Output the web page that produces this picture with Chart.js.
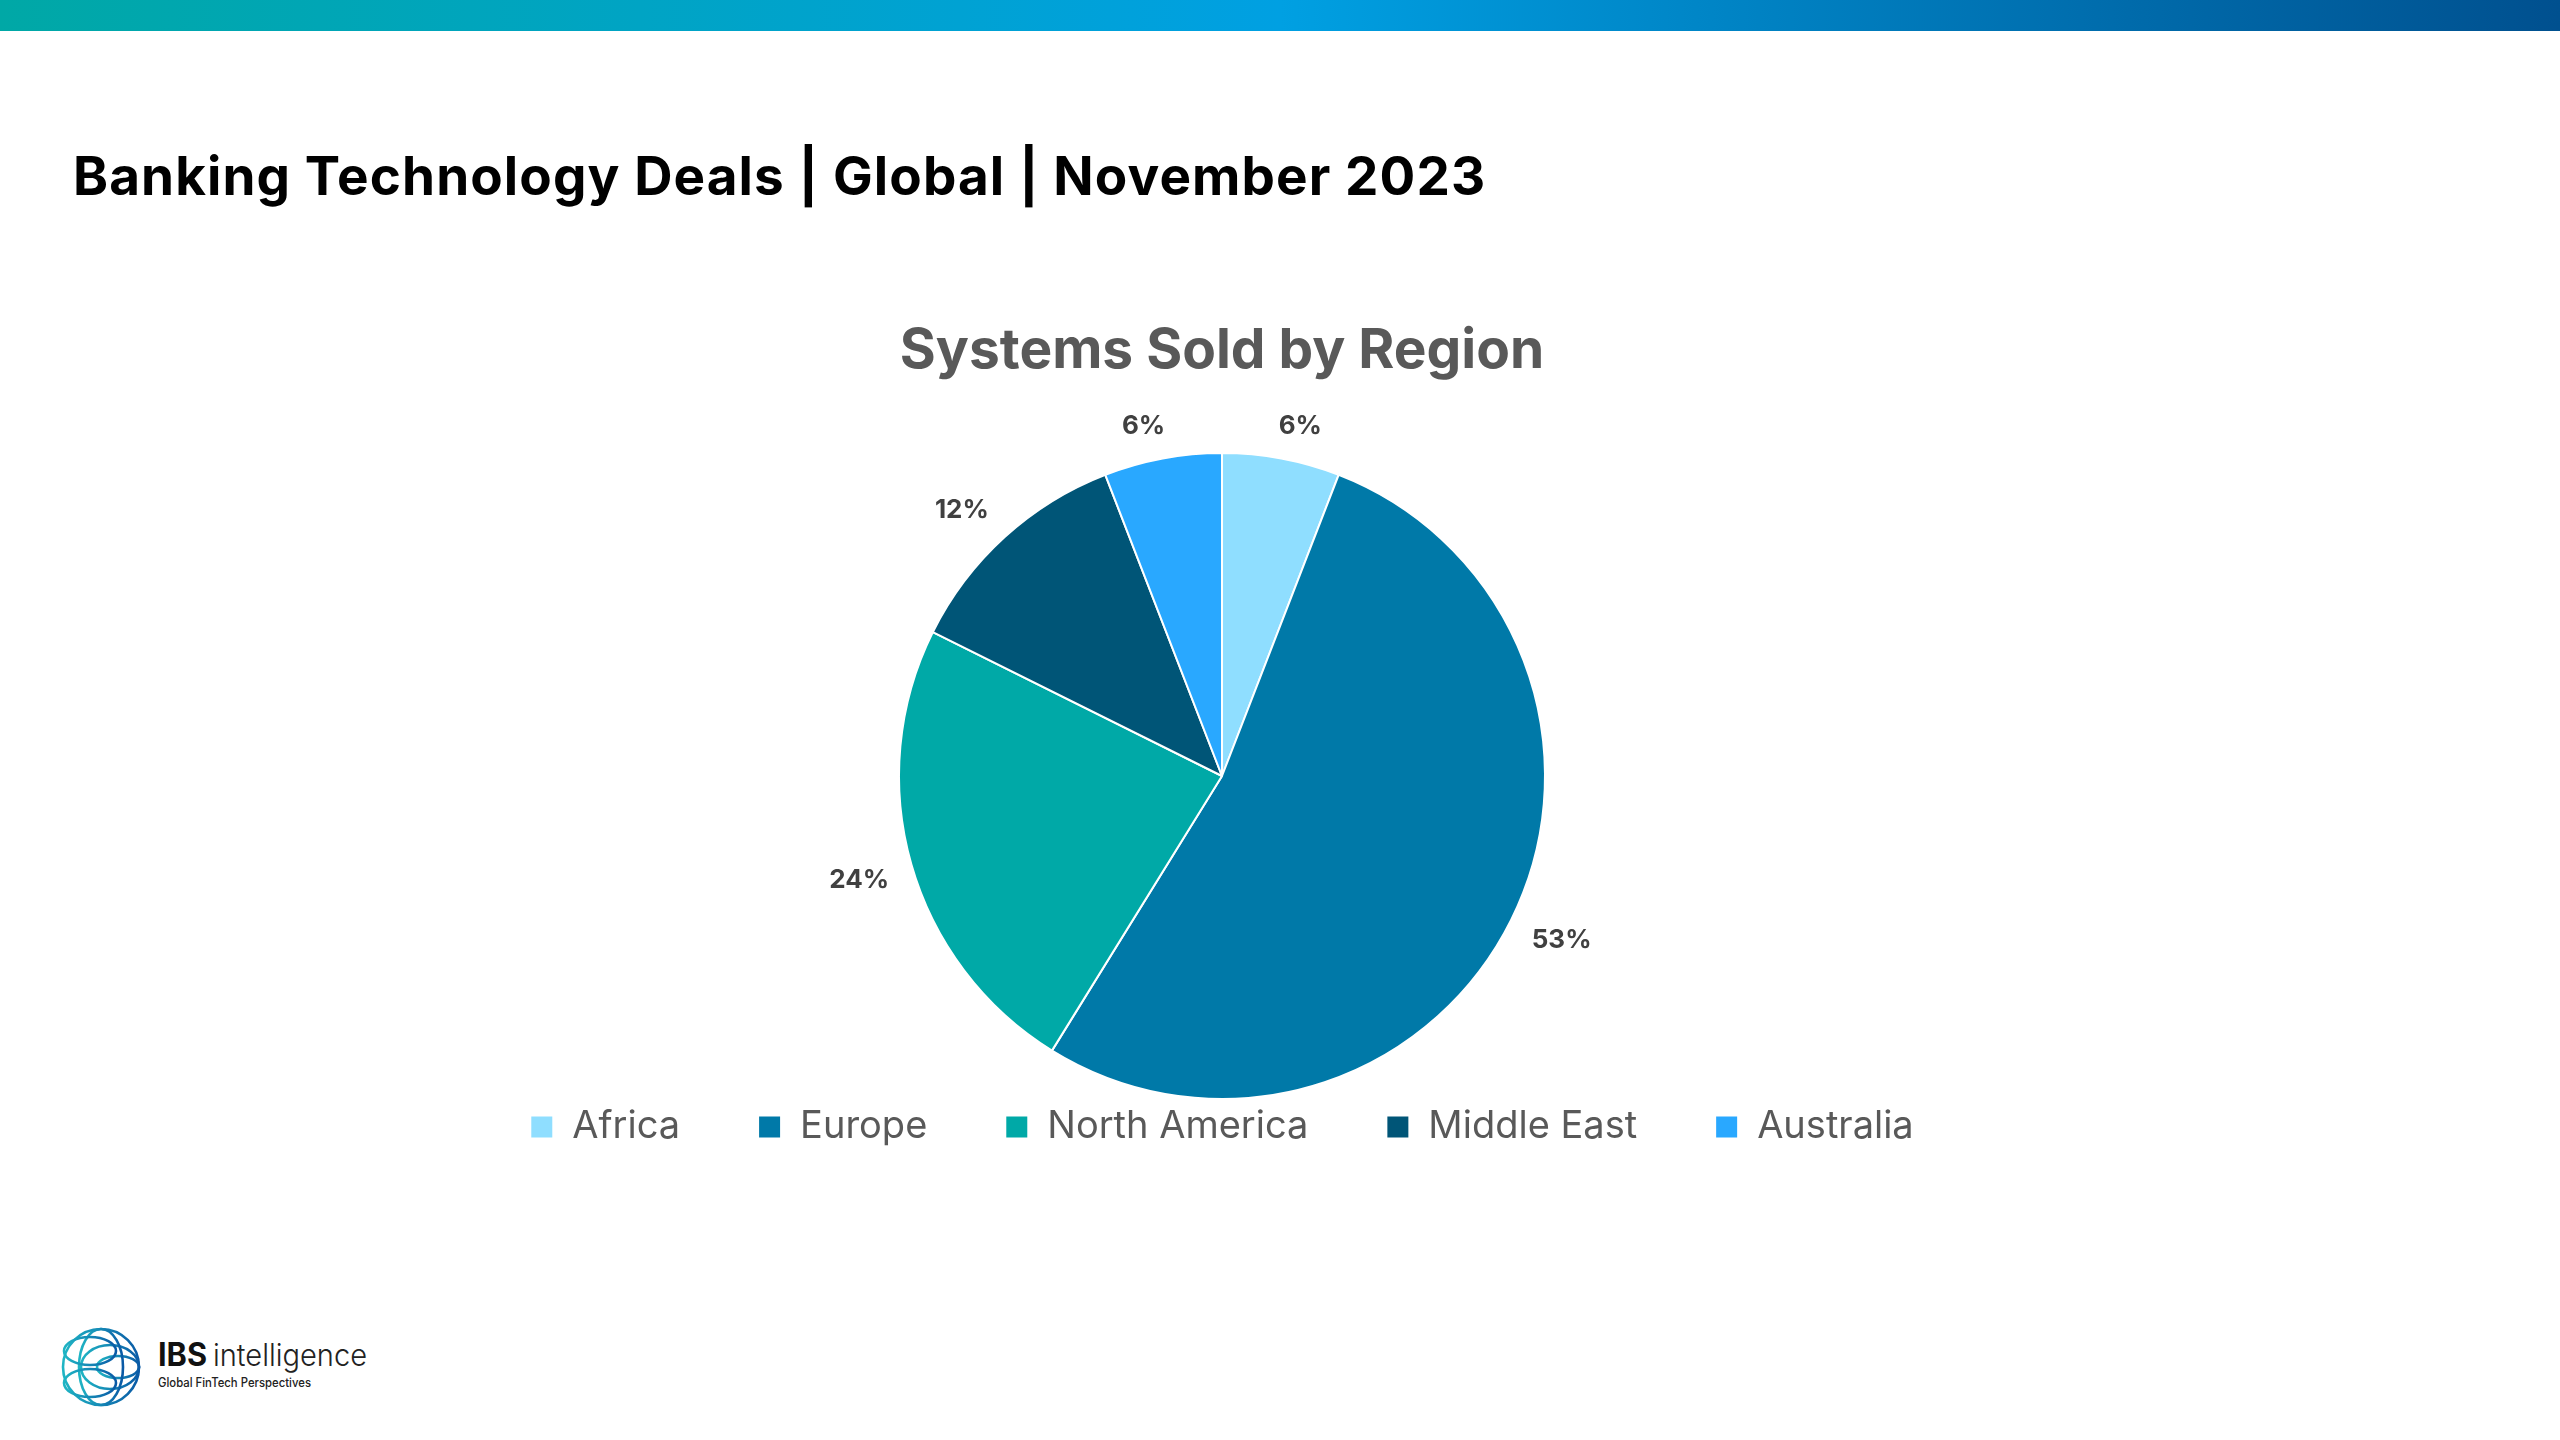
<!DOCTYPE html>
<html>
<head>
<meta charset="utf-8">
<title>Systems Sold by Region</title>
<script src="https://cdn.jsdelivr.net/npm/chart.js@4.4.0/dist/chart.umd.min.js"></script>
<style>
    html, body {
        margin: 0;
        padding: 0;
        background: #ffffff;
    }
    body {
        width: 2560px;
        height: 1440px;
        position: relative;
        overflow: hidden;
        font-family: Inter, "Noto Sans", sans-serif;
    }
    .topbar {
        position: absolute;
        left: 0;
        top: 0;
        width: 2560px;
        height: 31px;
        background: linear-gradient(90deg, #00a8a6 0%, #00a0e2 50%, #00508f 100%);
    }
    h1 {
        position: absolute;
        left: 73px;
        top: 150px;
        margin: 0;
        font-size: 53px;
        line-height: 53px;
        font-weight: 700;
        letter-spacing: 1.1px;
        color: #000000;
        white-space: nowrap;
    }
    .chart-box {
        position: absolute;
        left: 422px;
        top: 310px;
        width: 1600px;
        height: 846px;
    }
    .logo {
        position: absolute;
        left: 60px;
        top: 1325px;
    }
</style>
</head>
<body>
<div class="topbar"></div>
<h1>Banking Technology Deals | Global | November 2023</h1>

<div class="chart-box">
    <canvas id="chart"></canvas>
</div>

<svg class="logo" width="340" height="84" viewBox="0 0 340 84">
    <defs>
        <linearGradient id="lg" x1="0" y1="0" x2="1" y2="0">
            <stop offset="0" stop-color="#1fb5c4"/>
            <stop offset="1" stop-color="#0a5aa6"/>
        </linearGradient>
    </defs>
    <g fill="none" stroke="url(#lg)" stroke-width="2.6">
        <ellipse cx="41" cy="42" rx="38" ry="38"/>
        <ellipse cx="50" cy="42" rx="29" ry="22"/>
        <ellipse cx="58" cy="42" rx="21" ry="11"/>
        <ellipse cx="41" cy="42" rx="22" ry="38"/>
        <ellipse cx="30" cy="26" rx="26" ry="14"/>
        <ellipse cx="30" cy="58" rx="26" ry="14"/>
    </g>
    <text x="98" y="41" font-family="Inter, sans-serif" font-size="32" font-weight="700" fill="#111111" textLength="49" lengthAdjust="spacingAndGlyphs">IBS</text>
    <text x="153" y="41" font-family="Inter, sans-serif" font-size="31" font-weight="300" fill="#222222" textLength="154" lengthAdjust="spacingAndGlyphs">intelligence</text>
    <text x="98" y="62" font-family="Inter, sans-serif" font-size="12.5" font-weight="500" fill="#222222" textLength="153" lengthAdjust="spacingAndGlyphs">Global FinTech Perspectives</text>
</svg>

<script>
const regions = ['Africa', 'Europe', 'North America', 'Middle East', 'Australia'];
const systemsSold = [1, 9, 4, 2, 1];
const regionColors = ['#8fdeff', '#0079a8', '#00a9a7', '#005577', '#29a8ff'];

const chartTitle = 'Systems Sold by Region';

// percent labels placed just outside the rim, like the original
const outsideLabels = {
    id: 'outsideLabels',
    afterDatasetsDraw(chart) {
        const ctx = chart.ctx;
        const data = chart.data.datasets[0].data;
        const total = data.reduce((a, b) => a + b, 0);
        const meta = chart.getDatasetMeta(0);

        ctx.save();
        ctx.font = '700 26px Inter, sans-serif';
        ctx.fillStyle = '#404040';
        ctx.textAlign = 'center';
        ctx.textBaseline = 'middle';

        meta.data.forEach((arc, i) => {
            const p = arc.getProps(['x', 'y', 'startAngle', 'endAngle', 'outerRadius'], true);
            const mid = (p.startAngle + p.endAngle) / 2;
            const dx = Math.cos(mid);
            const dy = Math.sin(mid);
            const text = Math.round(data[i] / total * 100) + '%';
            const halfW = ctx.measureText(text).width / 2;
            const halfH = 10;
            const gap = p.outerRadius + 23;
            const x = p.x + dx * gap + Math.sign(dx) * halfW * Math.min(1, 0.5 + Math.abs(dx));
            const y = p.y + dy * gap + Math.sign(dy) * halfH;
            ctx.fillText(text, x, y);
        });
        ctx.restore();
    }
};

const ctx = document.getElementById('chart').getContext('2d');

new Chart(ctx, {
    type: 'pie',
    data: {
        labels: regions,
        datasets: [{
            data: systemsSold,
            backgroundColor: regionColors,
            borderColor: '#ffffff',
            borderWidth: 2
        }]
    },
    options: {
        responsive: true,
        maintainAspectRatio: false,
        animation: false,
        radius: 323,
        layout: {
            padding: 0
        },
        plugins: {
            title: {
                display: true,
                text: chartTitle,
                color: '#595959',
                font: { family: 'Inter', size: 55, weight: '700' },
                padding: { top: 8, bottom: 138 }
            },
            legend: {
                position: 'bottom',
                labels: {
                    color: '#595959',
                    font: { family: 'Inter', size: 38, weight: '400' },
                    boxWidth: 23,
                    boxHeight: 23,
                    padding: 78
                }
            },
            tooltip: { enabled: false }
        }
    },
    plugins: [outsideLabels]
});
</script>
</body>
</html>
